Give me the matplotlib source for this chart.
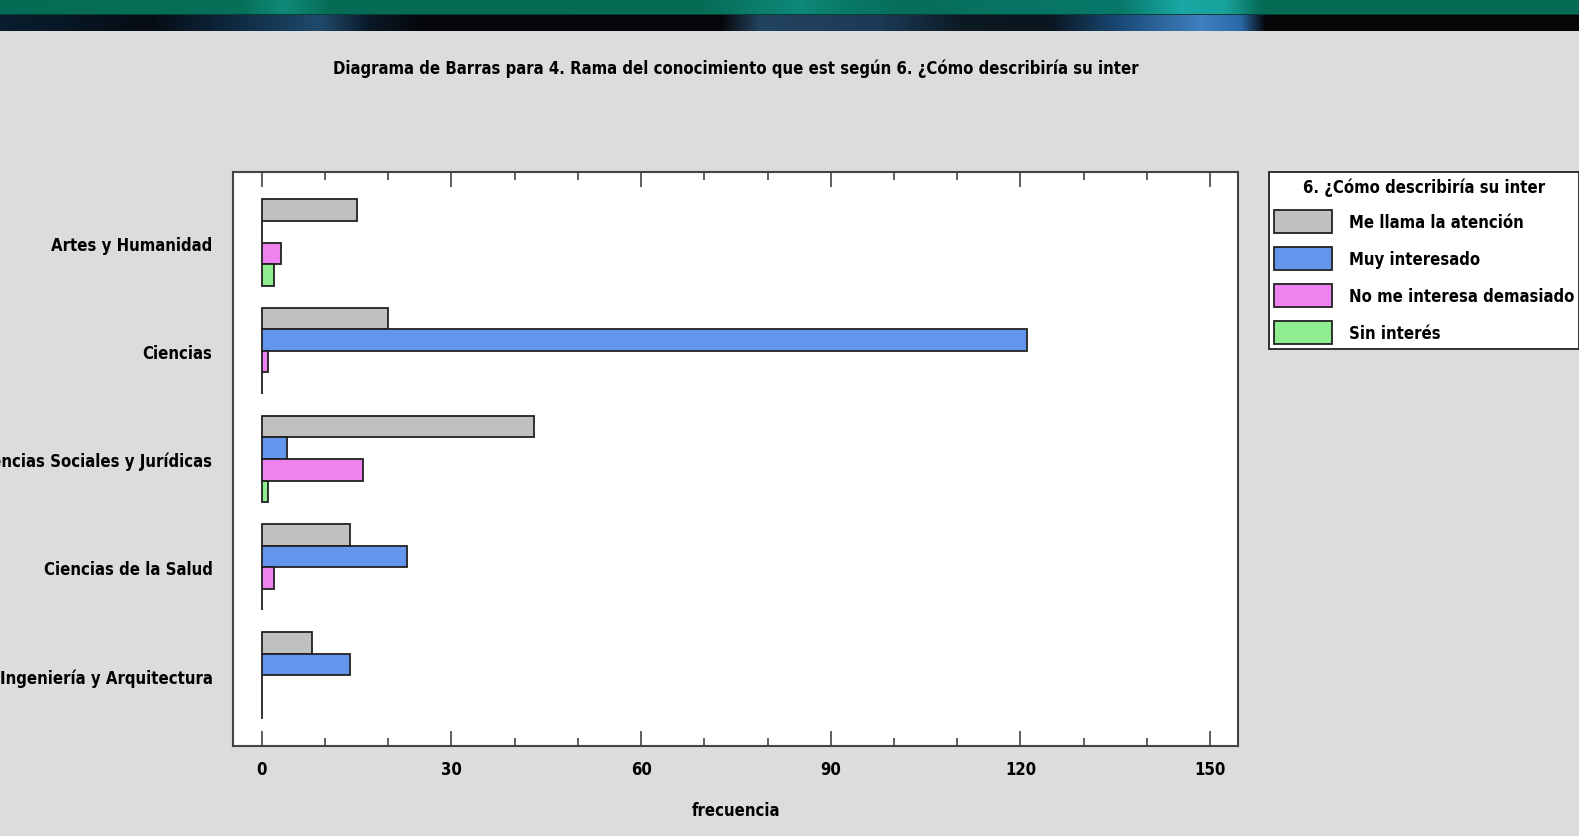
import numpy as np
import matplotlib.pyplot as plt
from matplotlib.patches import Patch

plt.rcParams['font.family'] = ['DejaVu Sans']
plt.rcParams['font.stretch'] = 'condensed'
plt.rcParams['font.weight'] = 'bold'

# frecuencias por rama y grado de interes
ramas = ['Artes y Humanidad', 'Ciencias', 'Ciencias Sociales y Jurídicas',
         'Ciencias de la Salud', 'Ingeniería y Arquitectura']
niveles = ['Me llama la atención', 'Muy interesado',
           'No me interesa demasiado', 'Sin interés']
me_llama = [15, 20, 43, 14, 8]
muy_interesado = [0, 121, 4, 23, 14]
no_interesa = [3, 1, 16, 2, 0]
sin_interes = [2, 0, 1, 0, 0]
colores = ['#c0c0c0', '#6495ed', '#ee82ee', '#90ee90']

fs = 12

fig = plt.figure(figsize=(15.79, 8.37), dpi=100, facecolor='#dcdcdc')

# franja superior
ban = fig.add_axes([0, 1 - 32 / 837, 1, 32 / 837])
ban.set_axis_off()
xs = np.arange(1579)
def franja(px, cols):
    cols = np.array([[int(c[i:i + 2], 16) / 255 for i in (1, 3, 5)] for c in cols])
    return np.stack([np.interp(xs, px, cols[:, k]) for k in range(3)], axis=-1)
verde = franja([0, 240, 285, 330, 700, 760, 800, 840, 900, 1120, 1180, 1225, 1260, 1579],
               ['#066b55', '#077058', '#0f8a78', '#066b55', '#066b55', '#0b7e6c',
                '#0e8878', '#097a68', '#066e5a', '#08786a', '#19a8a4', '#17a29c',
                '#066b55', '#066b55'])
oscuro = franja([0, 60, 150, 240, 320, 370, 420, 720, 760, 880, 960, 1050, 1120, 1200, 1240, 1265, 1579],
                ['#0a1c2e', '#081826', '#060c14', '#102c44', '#1f4a6c', '#0a1826',
                 '#05080c', '#06060a', '#23445e', '#1c3a56', '#0c1a24', '#0a1620',
                 '#1a4a78', '#3f80bf', '#2a6aa8', '#050608', '#050608'])
img = np.zeros((32, 1579, 3))
img[:15] = verde
img[15:16] = np.array([0.03, 0.25, 0.2])
img[16:] = oscuro
ban.imshow(img, aspect='auto', extent=[0, 1579, 32, 0])

ax = fig.add_axes([233.3 / 1579, 1 - 746.7 / 837, 1004.7 / 1579, 573.4 / 837])
ax.set_facecolor('white')

y = np.arange(len(ramas))
alto = 0.2
series = [me_llama, muy_interesado, no_interesa, sin_interes]
for k, (vals, col) in enumerate(zip(series, colores)):
    ax.barh(y - 0.3 + k * alto, vals, height=alto, color=col,
            edgecolor='#222222', linewidth=1.3, label=niveles[k])

ax.set_ylim(4.65, -0.65)
ax.set_xlim(-4.5, 154.4)
ax.set_yticks(y)
ax.set_yticklabels(ramas, fontsize=fs)
ax.tick_params(axis='y', length=0, pad=15)
ax.set_xticks(np.arange(0, 151, 30))
ax.set_xticks(np.arange(0, 151, 10), minor=True)
ax.tick_params(axis='x', which='major', direction='in', top=True, length=11,
               width=1.2, color='#444444', labelsize=fs, pad=10)
ax.tick_params(axis='x', which='minor', direction='in', top=True, length=6,
               width=1.2, color='#444444')
for s in ax.spines.values():
    s.set_color('#444444')
    s.set_linewidth(1.5)
ax.set_xlabel('frecuencia', fontsize=fs, fontweight='bold', labelpad=17)

fig.text(736 / 1579, 1 - 68.5 / 837, 'Diagrama de Barras para 4. Rama del conocimiento que est según 6. ¿Cómo describiría su inter',
         ha='center', va='center', fontsize=fs)

handles = [Patch(facecolor=c, edgecolor='#222222', linewidth=1.3) for c in colores]
leg = fig.legend(handles, niveles, title='6. ¿Cómo describiría su inter',
                 loc='upper left', bbox_to_anchor=(1269 / 1579, 1 - 173.3 / 837),
                 fontsize=fs, title_fontsize=fs, frameon=True, fancybox=False,
                 edgecolor='#222222', framealpha=1, handlelength=3.5,
                 handleheight=1.72, labelspacing=0.86, borderpad=0.3,
                 borderaxespad=0, handletextpad=1.0)
leg.get_frame().set_linewidth(1.3)
leg.get_title().set_fontweight('bold')

plt.savefig('out.png', dpi=100, facecolor=fig.get_facecolor())
